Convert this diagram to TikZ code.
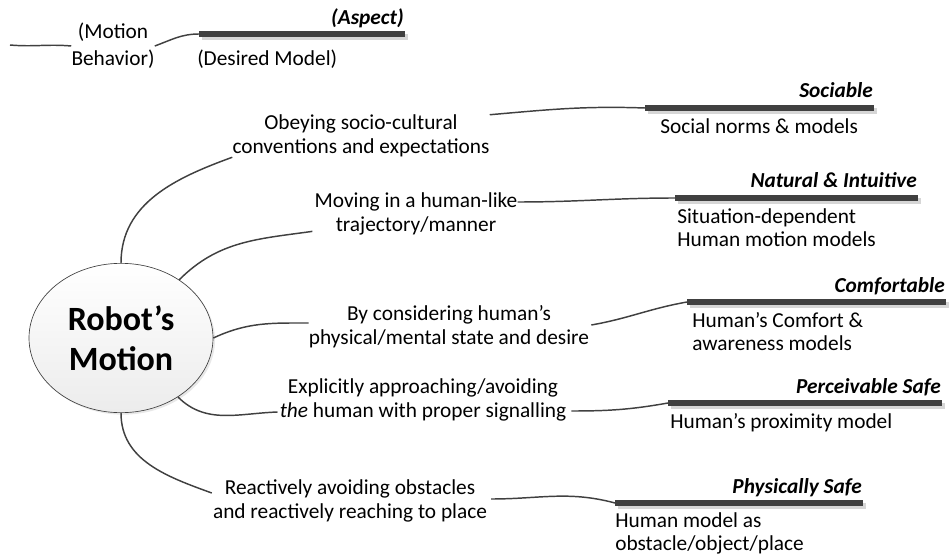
\documentclass[tikz,border=0pt]{standalone}
\usepackage{fontspec}
\setmainfont{Carlito}
\usepackage{xcolor}
\usepackage{tikz}
\usetikzlibrary{calc,shapes.geometric,shadows}
\definecolor{line}{HTML}{404040}
\definecolor{shade}{HTML}{D6D6D6}
\definecolor{bubble}{HTML}{ECECEC}
\tikzset{
  conn/.style={draw=line, line width=1.1pt},
  bar/.style={draw=line, line width=3.8pt},
  barshadow/.style={draw=shade, line width=3.8pt},
  branch/.style={font=\fontsize{16}{17.8}\selectfont, align=center, inner sep=0pt},
  aspect/.style={font=\fontsize{16}{17.8}\selectfont\bfseries\itshape, inner sep=0pt, anchor=base east},
  model/.style={font=\fontsize{16}{17.5}\selectfont, align=left, inner sep=0pt, anchor=north west},
  hub/.style={ellipse, draw=line, line width=0.5pt, top color=white, bottom color=bubble,
    minimum width=138pt, minimum height=112pt, inner sep=0pt, align=center,
    font=\fontsize{25.5}{30}\selectfont\bfseries,
    drop shadow={shadow xshift=1.5pt, shadow yshift=-1.5pt, opacity=0.18}}
}

\begin{document}
\begin{tikzpicture}[x=0.75pt, y=-0.75pt]
  \useasboundingbox (0,0) rectangle (949,556);

  % legend
  \coordinate (lg0) at (10,45);
  \node[branch, font=\fontsize{16}{20}\selectfont] (lgb) at (113,46) {(Motion\\Behavior)};
  \coordinate (a0s) at (199,34);
  \coordinate (a0e) at (405,34);
  \draw[barshadow] ($(a0s)+(3,3)$) -- ($(a0e)+(3,3)$);
  \draw[bar] (a0s) -- (a0e);
  \node[aspect] at ($(a0e)+(-1,-9)$) {(Aspect)};
  \node[model] at ($(a0s)+(-2,16)$) {(Desired Model)};
  \draw[conn] (lg0) to[out=-5,in=175] (lgb.west);
  \draw[conn] (lgb.east) to[out=20,in=180] (a0s);

  % centre
  \node[hub] (robot) at (121,338) {Robot’s\\Motion};

  % branches
  \node[branch] (b1) at (361,136) {Obeying socio-cultural\\conventions and expectations};
  \node[branch] (b2) at (416,214) {Moving in a human-like\\trajectory/manner};
  \node[branch] (b3) at (449,327) {By considering human’s\\physical/mental state and desire};
  \node[branch] (b4) at (423,400) {Explicitly approaching/avoiding\\\textit{the} human with proper signalling};
  \node[branch] (b5) at (350,501) {Reactively avoiding obstacles\\and reactively reaching to place};

  % aspect bars
  \coordinate (a1s) at (645,108); \coordinate (a1e) at (874,108);
  \coordinate (a2s) at (675,198); \coordinate (a2e) at (918,198);
  \coordinate (a3s) at (687,302); \coordinate (a3e) at (946,302);
  \coordinate (a4s) at (668,403); \coordinate (a4e) at (942,403);
  \coordinate (a5s) at (615,503); \coordinate (a5e) at (863,503);
  \foreach \i in {1,...,5}{
    \draw[barshadow] ($(a\i s)+(3,3)$) -- ($(a\i e)+(3,3)$);
    \draw[bar] (a\i s) -- (a\i e);
  }
  \node[aspect] at ($(a1e)+(-1,-10)$) {Sociable};
  \node[aspect] at ($(a2e)+(-1,-10)$) {Natural \& Intuitive};
  \node[aspect] at ($(a3e)+(-1,-10)$) {Comfortable};
  \node[aspect] at ($(a4e)+(-1,-10)$) {Perceivable Safe};
  \node[aspect] at ($(a5e)+(-1,-10)$) {Physically Safe};

  \node[model] at ($(a1s)+(15,10)$) {Social norms \& models};
  \node[model] at ($(a2s)+(2,10)$) {Situation-dependent\\Human motion models};
  \node[model] at ($(a3s)+(5,10)$) {Human’s Comfort \&\\awareness models};
  \node[model] at ($(a4s)+(2,10)$) {Human’s proximity model};
  \node[model] at ($(a5s)+(0,9)$) {Human model as\\obstacle/object/place};

  % connectors
  \draw[conn] (robot.north) to[out=90,in=200] (b1.south west);
  \draw[conn] (robot.45) to[out=45,in=188] ($(b2.south west)+(-2,-4)$);
  \draw[conn] (robot.east) to[out=25,in=180] ($(b3.west)+(0,-4)$);
  \draw[conn] (robot.-46) to[out=-45,in=182] ($(b4.west)+(-2,12)$);
  \draw[conn] (robot.south) to[out=-90,in=160] ($(b5.west)+(-1,-8)$);

  \draw[conn] (b1.north east) to[out=5,in=178] (a1s);
  \draw[conn] ($(b2.east)+(0,-12)$) to[out=0,in=180] (a2s);
  \draw[conn] ($(b3.east)+(2,-2)$) to[out=10,in=190] (a3s);
  \draw[conn] ($(b4.east)+(5,11)$) to[out=0,in=190] (a4s);
  \draw[conn] ($(b5.east)+(4,-2)$) to[out=0,in=165] (a5s);
\end{tikzpicture}
\end{document}
